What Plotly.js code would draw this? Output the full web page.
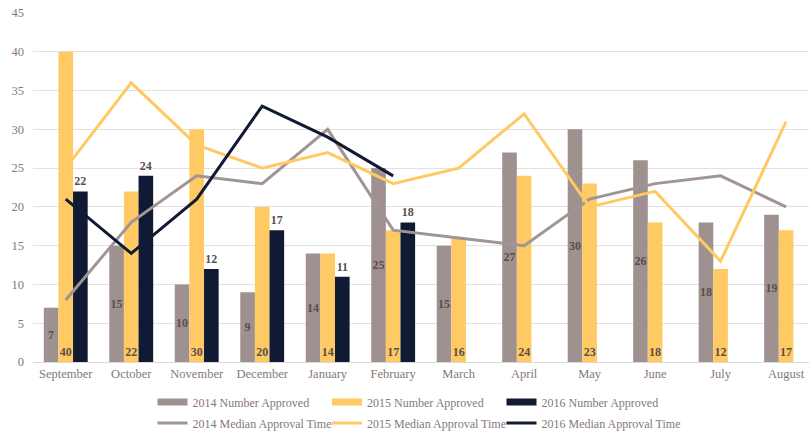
<!DOCTYPE html>
<html>
<head>
<meta charset="utf-8">
<script src="https://cdn.plot.ly/plotly-3.0.1.min.js"></script>
<style>html,body{margin:0;padding:0;background:#fff;}#chart{width:809px;height:431px;}</style>
</head>
<body>
<div id="chart"></div>
<script>
const months = ["September","October","November","December","January","February","March","April","May","June","July","August"];
const approved2014 = [7,15,10,9,14,25,15,27,30,26,18,19];
const approved2015 = [40,22,30,20,14,17,16,24,23,18,12,17];
const months2016 = ["September","October","November","December","January","February"];
const approved2016 = [22,24,12,17,11,18];
const median2014 = [8,18,24,23,30,17,16,15,21,23,24,20];
const median2015 = [25,36,28,25,27,23,25,32,20,22,13,31];
const median2016 = [21,14,21,33,29,24];
const barNames = ["2014 Number Approved","2015 Number Approved","2016 Number Approved"];
const lineNames = ["2014 Median Approval Time","2015 Median Approval Time","2016 Median Approval Time"];

const FAM = "Liberation Serif";
const C14 = "#9F918F", C15 = "#FFCA63", C16 = "#111A33", L14 = "#A09594";
const labelFont = {family:FAM, size:12, color:"#5a4e4e", weight:"bold"};
const bar = (x, y, name, color, pos, anchor) => ({
  type:"bar", x:x, y:y, name:name, marker:{color:color},
  text:y.map(v=>"<b>"+v+"</b>"), texttemplate:"%{text}", textposition:pos,
  insidetextanchor:anchor, textfont:labelFont, constraintext:"none",
  cliponaxis:false, showlegend:false, hoverinfo:"none"
});
const line = (x, y, name, color) => ({
  type:"scatter", mode:"lines", x:x, y:y, name:name,
  line:{color:color, width:3}, legend:"legend2", hoverinfo:"none"
});
// legend-only proxies so bar keys are drawn as wide swatches
const barKey = (name, color) => ({
  type:"scatter", mode:"lines", x:[null], y:[null], name:name,
  line:{color:color, width:7}, legend:"legend", hoverinfo:"none"
});
const spacer = (leg) => ({
  type:"scatter", mode:"lines", x:[null], y:[null], name:" ",
  line:{color:"rgba(0,0,0,0)", width:0}, legend:leg, hoverinfo:"none"
});

const data = [
  bar(months, approved2014, barNames[0], C14, "inside", "middle"),
  bar(months, approved2015, barNames[1], C15, "inside", "start"),
  bar(months2016, approved2016, barNames[2], C16, "outside", "end"),
  line(months, median2014, lineNames[0], L14),
  line(months, median2015, lineNames[1], C15),
  line(months2016, median2016, lineNames[2], C16),
  barKey(barNames[0], C14), barKey(barNames[1], C15), barKey(barNames[2], C16),
  spacer("legend"), spacer("legend2")
];

const legendCommon = {
  orientation:"h", xref:"container", yref:"container", xanchor:"left", yanchor:"middle", x:0.1885,
  font:{family:FAM, size:12, color:"#857878"}, traceorder:"normal",
  entrywidth:129.5, entrywidthmode:"pixels", bgcolor:"rgba(0,0,0,0)", tracegroupgap:0
};

const layout = {
  width:809, height:431,
  margin:{l:33, r:0, t:13, b:69},
  paper_bgcolor:"#fff", plot_bgcolor:"#fff",
  font:{family:FAM, size:12.5, color:"#857878"},
  barmode:"group", bargap:0.33, bargroupgap:0,
  uniformtext:{minsize:12, mode:"show"},
  xaxis:{type:"category", categoryorder:"array", categoryarray:months,
    range:[-0.5, 11.35], showgrid:false, showline:true, linecolor:"#D9D9D9", linewidth:1,
    ticks:"", tickfont:{family:FAM, size:12.5, color:"#857878"}, fixedrange:true},
  yaxis:{range:[0,45], dtick:5, showgrid:true, gridcolor:"#E3E0E0", gridwidth:1,
    zeroline:false, showline:false, ticks:"", ticklabelstandoff:8,
    tickfont:{family:FAM, size:12.5, color:"#857878"}, fixedrange:true},
  showlegend:true,
  legend:Object.assign({}, legendCommon, {y:0.0673}),
  legend2:Object.assign({}, legendCommon, {y:0.0186})
};

Plotly.newPlot("chart", data, layout, {displayModeBar:false, staticPlot:true});
</script>
</body>
</html>
